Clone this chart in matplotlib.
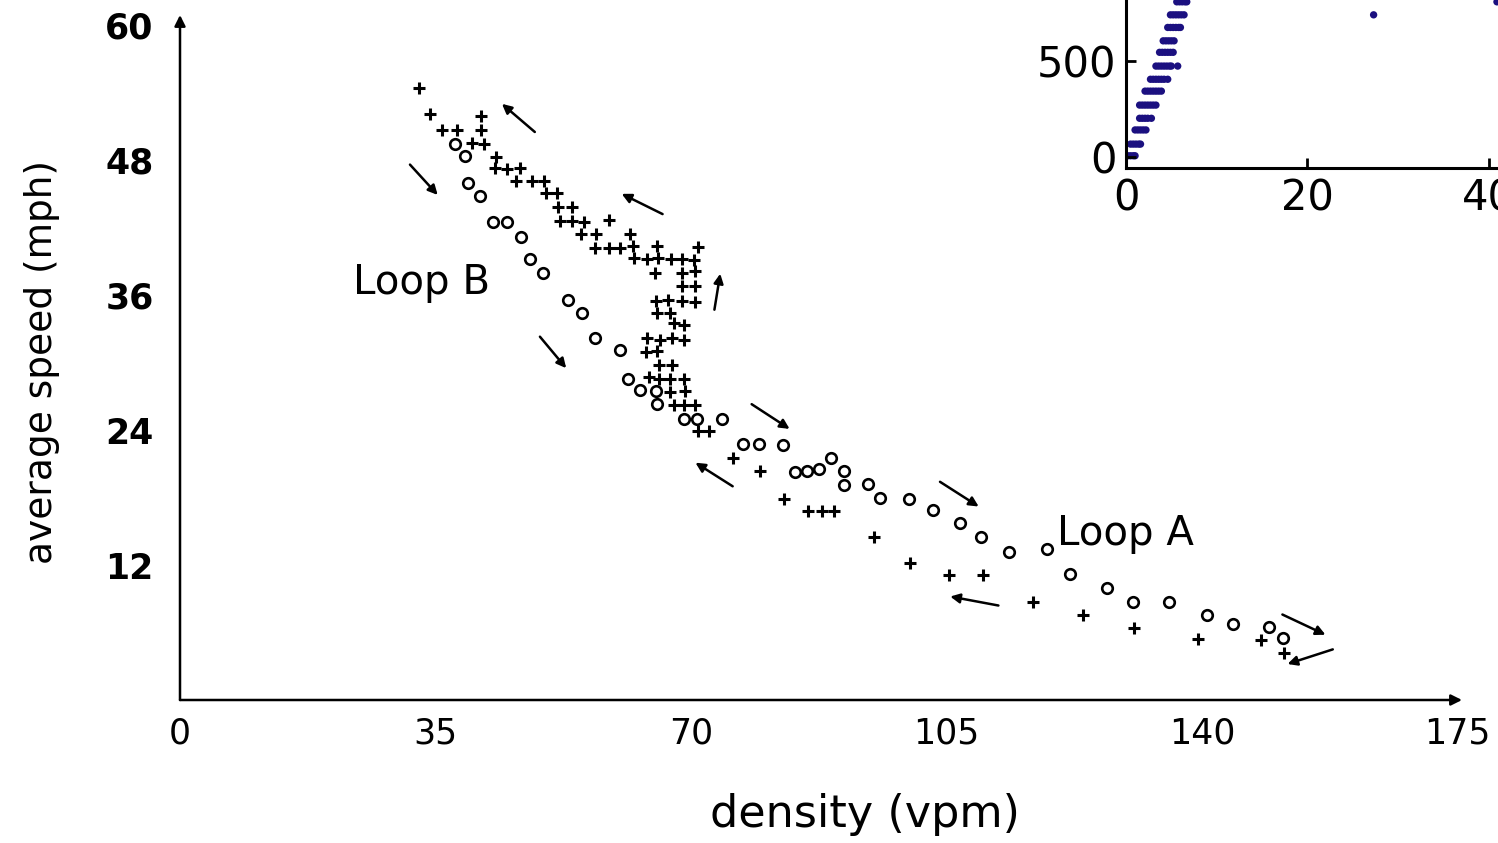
import matplotlib.pyplot as plt
import numpy as np

# main plot: density (vpm) vs average speed (mph)
x_ticks = [0, 35, 70, 105, 140, 175]
y_ticks = [12, 24, 36, 48, 60]

# circles (loop going down)
circle_x = [37.6, 39.1, 39.5, 41.1, 42.9, 44.8, 46.7, 47.9, 49.7, 53.2,
            55.0, 56.9, 60.2, 61.4, 63.0, 65.2, 65.3, 69.0, 70.8, 74.2,
            77.1, 79.3, 82.6, 84.3, 85.9, 87.5, 89.2, 91.0, 91.0, 94.3,
            95.9, 99.8, 103.1, 106.8, 109.7, 113.5, 118.8, 121.9, 127.0, 130.5,
            135.4, 140.7, 144.2, 149.2, 151.1]
circle_y = [49.4, 48.4, 46.0, 44.8, 42.5, 42.5, 41.2, 39.2, 38.0, 35.6,
            34.4, 32.2, 31.1, 28.5, 27.6, 27.5, 26.3, 25.0, 25.0, 25.0,
            22.8, 22.8, 22.7, 20.3, 20.4, 20.5, 21.5, 20.4, 19.1, 19.2,
            18.0, 17.9, 16.9, 15.7, 14.5, 13.2, 13.4, 11.2, 10.0, 8.7,
            8.7, 7.6, 6.8, 6.5, 5.5]

# crosses (loop going back up)
cross_x = [32.7, 34.3, 35.9, 37.9, 41.2, 41.2, 40.0, 41.6, 43.3, 43.2,
           44.8, 46.6, 46.0, 48.2, 49.9, 50.1, 51.6, 51.8, 53.7, 52.0,
           53.7, 55.4, 58.8, 54.9, 57.0, 61.6, 56.9, 58.7, 60.3, 62.0,
           65.4, 70.9, 62.2, 63.9, 65.5, 67.3, 68.7, 70.4, 65.1, 68.8,
           70.6, 68.8, 70.6, 65.2, 66.9, 68.7, 70.5, 65.3, 67.1, 67.7,
           69.0, 63.9, 65.7, 67.4, 69.0, 63.8, 65.3, 65.6, 67.4, 64.2,
           65.6, 67.1, 69.0, 67.1, 69.2, 67.6, 69.0, 70.6, 70.9, 72.5,
           75.7, 79.4, 82.8, 86.0, 87.9, 89.6, 95.0, 100.0, 105.3, 110.0,
           116.9, 123.7, 130.7, 139.4, 148.0, 151.2]
cross_y = [54.4, 52.1, 50.7, 50.7, 51.9, 50.7, 49.5, 49.4, 48.3, 47.3,
           47.2, 47.3, 46.1, 46.1, 46.1, 45.1, 45.1, 43.8, 43.8, 42.6,
           42.6, 42.5, 42.7, 41.4, 41.4, 41.4, 40.2, 40.2, 40.2, 40.4,
           40.4, 40.3, 39.3, 39.2, 39.3, 39.2, 39.2, 39.1, 38.0, 38.0,
           38.1, 36.8, 36.8, 35.5, 35.6, 35.5, 35.4, 34.4, 34.4, 33.5,
           33.3, 32.2, 32.0, 32.2, 32.0, 30.9, 31.0, 29.8, 29.8, 28.7,
           28.5, 28.5, 28.5, 27.4, 27.5, 26.2, 26.2, 26.2, 23.9, 23.9,
           21.5, 20.4, 17.9, 16.8, 16.8, 16.8, 14.5, 12.2, 11.1, 11.1,
           8.7, 7.6, 6.4, 5.4, 5.3, 4.2]

# direction arrows: (x_tail, y_tail, x_head, y_head)
arrows = [(48.6, 50.5, 44.1, 53.0),
          (31.5, 47.6, 35.3, 44.9),
          (66.1, 43.2, 60.5, 45.0),
          (73.2, 34.7, 74.0, 37.9),
          (49.3, 32.3, 52.9, 29.5),
          (78.3, 26.3, 83.5, 24.1),
          (75.7, 19.0, 70.6, 21.1),
          (104.1, 19.4, 109.4, 17.2),
          (112.1, 8.4, 105.5, 9.2),
          (151.0, 7.6, 156.9, 5.8),
          (157.9, 4.5, 151.7, 3.2)]

# inset: rows of dots
inset_levels = [5, 66, 140, 201, 270, 343, 405, 474, 546, 606, 676, 742, 810]
inset_rows = [[0.2, 0.5, 0.8, 1.0],
              [0.5, 0.8, 1.1, 1.4, 1.6],
              [1.0, 1.3, 1.6, 1.9, 2.2],
              [1.5, 1.8, 2.1, 2.4, 2.8],
              [1.5, 1.8, 2.1, 2.4, 2.7, 3.0, 3.3],
              [2.1, 2.4, 2.7, 3.0, 3.3, 3.6, 3.9],
              [2.7, 3.0, 3.3, 3.6, 3.9, 4.2, 4.6],
              [3.3, 3.6, 3.9, 4.2, 4.5, 4.8, 5.0, 5.7],
              [3.7, 4.0, 4.3, 4.6, 4.9, 5.2],
              [4.1, 4.4, 4.7, 5.0, 5.3],
              [4.6, 4.9, 5.2, 5.5, 5.8, 6.0],
              [4.9, 5.2, 5.5, 5.8, 6.1, 6.4],
              [5.6, 5.9, 6.2, 6.5, 6.7]]
inset_extra_x = [27.3, 40.9]
inset_extra_y = [742, 810]

fig = plt.figure(figsize=(14.98, 8.43), dpi=100)
ax = fig.add_axes([180/1498, 143/843, 1282/1498, 685/843])

ax.plot(cross_x, cross_y, '+', color='k', ms=8, mew=2.2, ls='none')
ax.plot(circle_x, circle_y, 'o', mfc='none', mec='k', ms=7.6, mew=1.9, ls='none')

for x0, y0, x1, y1 in arrows:
    ax.annotate('', xy=(x1, y1), xytext=(x0, y0),
                arrowprops=dict(arrowstyle='-|>', color='k', lw=1.8,
                                mutation_scale=14, shrinkA=0, shrinkB=0))

ax.text(23.7, 37.1, 'Loop B', fontsize=29, ha='left', va='center')
ax.text(120.1, 14.8, 'Loop A', fontsize=29, ha='left', va='center')

ax.set_xlim(0, 175.6)
ax.set_ylim(0, 60.9)
for s in ax.spines.values():
    s.set_visible(False)
axis_arrow = dict(arrowstyle='-|>', color='k', lw=1.8, mutation_scale=16,
                  shrinkA=0, shrinkB=0)
ax.annotate('', xy=(1, 0), xytext=(0, 0), xycoords='axes fraction', arrowprops=axis_arrow)
ax.annotate('', xy=(0, 1), xytext=(0, 0), xycoords='axes fraction', arrowprops=axis_arrow)

ax.set_xticks(x_ticks)
ax.set_yticks(y_ticks)
ax.tick_params(length=0)
ax.tick_params(axis='x', labelsize=25, pad=12)
ax.tick_params(axis='y', labelsize=25, pad=19)
for lab in ax.get_yticklabels():
    lab.set_fontweight('bold')

fig.text(865/1498, 1 - 815/843, 'density (vpm)', fontsize=32, ha='center', va='center')
fig.text(42/1498, 1 - 362/843, 'average speed (mph)', fontsize=27, rotation=90,
         ha='center', va='center')

# inset, cut off by the figure edge
axi = fig.add_axes([1126/1498, (843 - 168)/843, 453.5/1498, 183/843])
ix = [x for row in inset_rows for x in row] + inset_extra_x
iy = [lv for lv, row in zip(inset_levels, inset_rows) for _ in row] + inset_extra_y
axi.scatter(ix, iy, s=28, color='#1b1080', edgecolors='none')
axi.set_xlim(0, 50)
axi.set_ylim(-59, 898)
axi.set_xticks([0, 20, 40])
axi.set_yticks([0, 500])
axi.tick_params(direction='in', length=7, width=2, labelsize=30, pad=7)
for s in ['left', 'bottom']:
    axi.spines[s].set_linewidth(2.2)

fig.savefig('out.png', dpi=100)
